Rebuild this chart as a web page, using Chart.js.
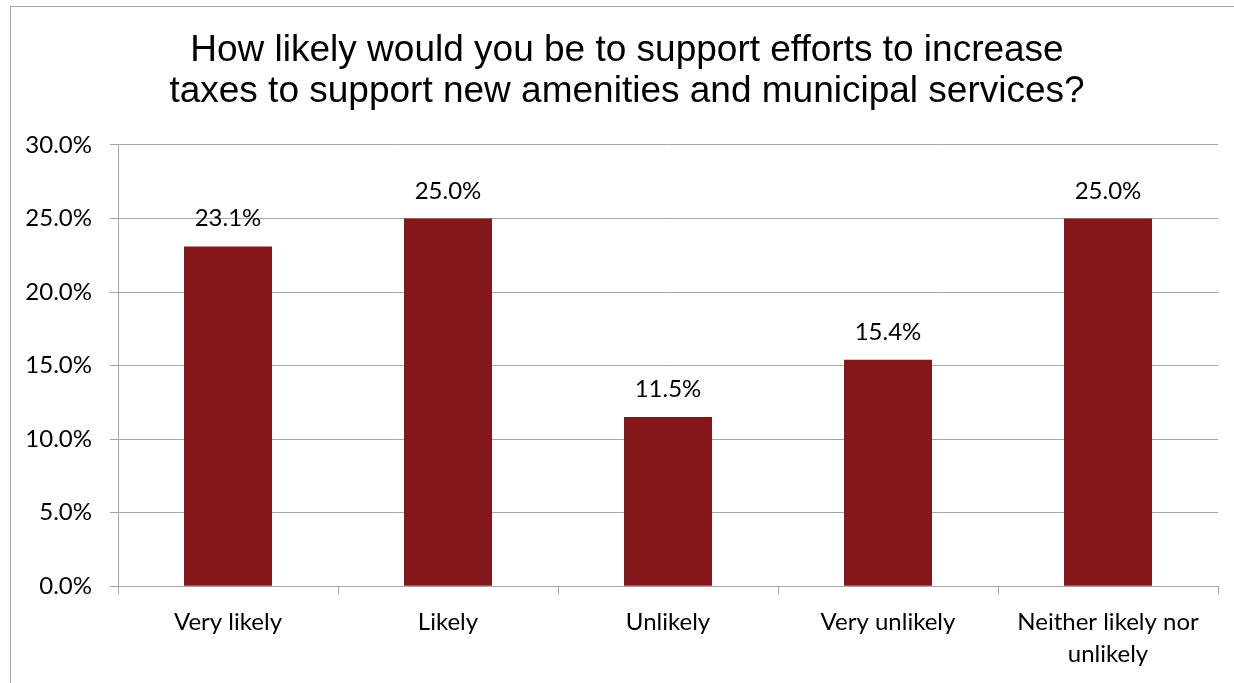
<!DOCTYPE html>
<html>
<head>
<meta charset="utf-8">
<script src="https://cdn.jsdelivr.net/npm/chart.js@4.4.1/dist/chart.umd.min.js"></script>
<style>
  html, body { margin: 0; padding: 0; background: #fff; overflow: hidden; }
  #frame {
    position: absolute; left: 10px; top: 6px;
    width: 1260px; height: 720px;
    border: 1px solid #a6a6a6;
  }
  #wrap { position: absolute; left: 0; top: 0; width: 1254px; height: 683px; }
</style>
</head>
<body>
<div id="frame"></div>
<div id="wrap"><canvas id="chart" width="1254" height="683"></canvas></div>
<script>
const titleLines = [
    "How likely would you be to support efforts to increase",
    "taxes to support new amenities and municipal services?"
];
const categories = [
    "Very likely",
    "Likely",
    "Unlikely",
    "Very unlikely",
    ["Neither likely nor", "unlikely"]
];
const percentValues = [23.1, 25.0, 11.5, 15.4, 25.0];
const yTicks = [0, 5, 10, 15, 20, 25, 30];

const labelFont = "Lato, 'Open Sans', sans-serif";

// draws the value above each bar
const barLabels = {
    id: "barLabels",
    afterDatasetsDraw(chart) {
        const ctx = chart.ctx;
        const meta = chart.getDatasetMeta(0);
        ctx.save();
        ctx.font = "24px " + labelFont;
        ctx.fillStyle = "#000";
        ctx.textAlign = "center";
        ctx.textBaseline = "alphabetic";
        meta.data.forEach((bar, i) => {
            ctx.fillText(percentValues[i].toFixed(1) + "%", bar.x, bar.y - 20);
        });
        ctx.restore();
    }
};

new Chart("chart", {
    type: "bar",
    data: {
        labels: categories,
        datasets: [{
            data: percentValues,
            backgroundColor: "#84171a",
            categoryPercentage: 0.4,
            barPercentage: 1.0
        }]
    },
    options: {
        responsive: false,
        animation: false,
        layout: { padding: { left: 0, right: 0, top: 0, bottom: 1 } },
        plugins: {
            legend: { display: false },
            tooltip: { enabled: false },
            title: {
                display: true,
                text: titleLines,
                color: "#000",
                font: { family: "'Liberation Sans', Arial, sans-serif", size: 37, weight: "normal", lineHeight: 1.108 },
                padding: { top: 30, bottom: 33 }
            }
        },
        scales: {
            x: {
                grid: {
                    display: true,
                    drawOnChartArea: false,
                    drawTicks: true,
                    tickLength: 8,
                    offset: true,
                    color: "#a6a6a6"
                },
                border: { color: "#a6a6a6" },
                ticks: {
                    color: "#000",
                    font: { family: labelFont, size: 24, lineHeight: 1.33 },
                    padding: 12,
                    maxRotation: 0,
                    autoSkip: false
                }
            },
            y: {
                min: 0,
                max: 30,
                afterFit(scale) { scale.width = 118; },
                afterBuildTicks(scale) { scale.ticks = yTicks.map(v => ({ value: v })); },
                grid: { color: "#a6a6a6", tickLength: 8 },
                border: { color: "#a6a6a6" },
                ticks: {
                    color: "#000",
                    font: { family: labelFont, size: 24 },
                    padding: 18,
                    callback: v => v.toFixed(1) + "%"
                }
            },
            // empty right-hand gap so the title stays centred on the frame
            yGap: {
                position: "right",
                min: 0,
                max: 30,
                afterFit(scale) { scale.width = 36; },
                grid: { display: false },
                border: { display: false },
                ticks: { display: false }
            }
        }
    },
    plugins: [barLabels]
});
</script>
</body>
</html>
